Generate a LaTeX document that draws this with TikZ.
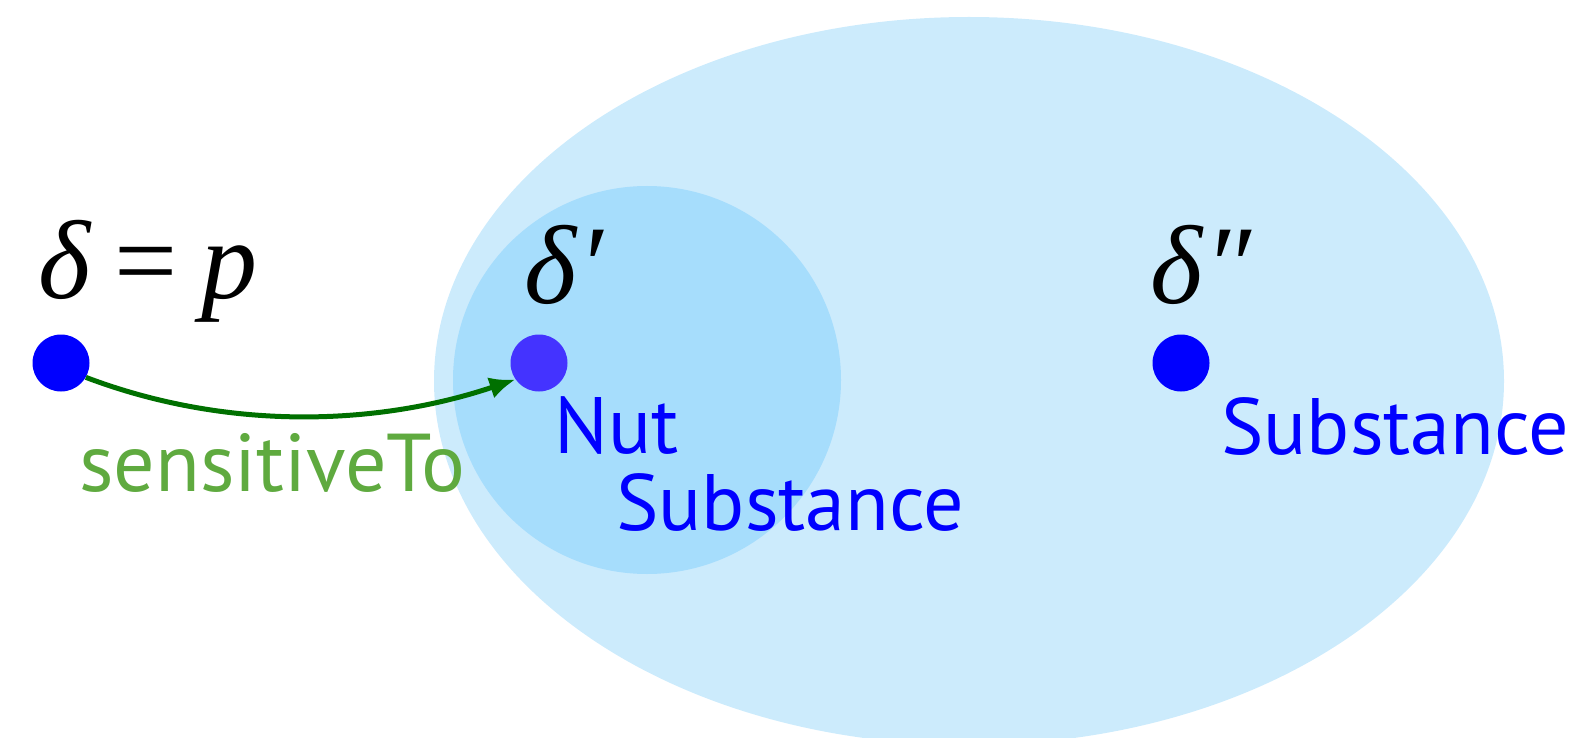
\documentclass[tikz,border=0pt]{standalone}
\usepackage{fontspec}
\setmainfont{Liberation Serif}
\newfontfamily\lblfont{PT Sans}
\usetikzlibrary{arrows.meta}
\definecolor{outerblue}{HTML}{CCEBFC}
\definecolor{innerblue}{HTML}{A6DDFC}
\definecolor{dotblue}{HTML}{0000FF}
\definecolor{dotviolet}{HTML}{4433FF}
\definecolor{arrowgreen}{HTML}{007000}
\definecolor{lblgreen}{HTML}{5FAA3F}
\begin{document}
\begin{tikzpicture}[x=1pt,y=-1pt,
  dot/.style={circle,inner sep=0pt,minimum size=57pt},
  mathlbl/.style={anchor=base west,inner sep=0pt,font=\fontsize{112}{118}\selectfont\itshape},
  clslbl/.style={anchor=base west,inner sep=0pt,text=dotblue,font=\lblfont\fontsize{80}{90}\selectfont},
  rellbl/.style={anchor=base west,inner sep=0pt,text=lblgreen,font=\lblfont\fontsize{82}{90}\selectfont},
  rel/.style={draw=arrowgreen,line width=5pt,-{Latex[length=26pt,width=22pt]}}]
\useasboundingbox (0,0) rectangle (1593,738);
\begin{scope}
\clip (0,0) rectangle (1593,738);
\fill[outerblue] (969,381) ellipse [x radius=535, y radius=364];
\fill[innerblue] (647,380) circle [radius=194];
\end{scope}
\node[dot,fill=dotblue] (p) at (61,363) {};
\node[dot,fill=dotviolet] (d1) at (539,363) {};
\node[dot,fill=dotblue] (d2) at (1181,363) {};
\node[mathlbl] (lp) at (38,298) {δ\hspace{24pt}{\upshape =}\hspace{24pt}p};
\node[mathlbl] (l1) at (524,303) {δ\kern2pt′};
\node[mathlbl] (l2) at (1150,303) {δ\kern2pt″};
\node[clslbl] (nut) at (554,453) {Nut};
\node[clslbl] (sub1) at (616,530) {Substance};
\node[clslbl] (sub2) at (1221,454) {Substance};
\node[rellbl] (st) at (79,491) {sensitiveTo};
\draw[rel] (p.-30) .. controls (230,432) and (380,425) .. (d1.-145);
\end{tikzpicture}
\end{document}
